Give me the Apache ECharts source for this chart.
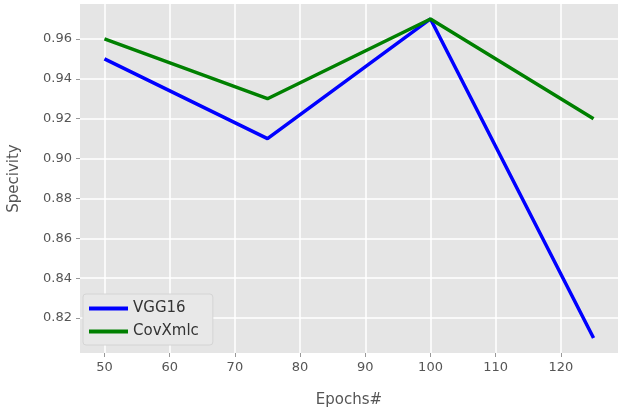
<!DOCTYPE html>
<html>
<head>
    <meta charset="utf-8" />
    <title>Specivity</title>
    <script src="https://cdn.jsdelivr.net/npm/echarts@6/dist/echarts.min.js"></script>
    <style>
        html, body { margin: 0; padding: 0; background: #fff; }
    </style>
</head>
<body>
    <div id="main" style="width: 623px;height: 416px;"></div>
<script type="text/javascript">
    // data
    var epochs = [50, 75, 100, 125];
    var vgg16 = [0.95, 0.91, 0.97, 0.81];
    var covXmlc = [0.96, 0.93, 0.97, 0.92];
    var xTicks = [50, 60, 70, 80, 90, 100, 110, 120];
    var yTicks = [0.82, 0.84, 0.86, 0.88, 0.90, 0.92, 0.94, 0.96];

    function pairs(xs, ys) {
        return xs.map(function (x, i) { return [x, ys[i]]; });
    }

    var chart = echarts.init(document.getElementById('main'));
    var gray = '#555';
    var font = 'DejaVu Sans';

    var option = {
        animation: false,
        textStyle: { fontFamily: font },
        legend: {
            left: 83,
            top: 294,
            orient: 'vertical',
            itemWidth: 39,
            itemHeight: 4,
            itemGap: 8,
            padding: [7, 14, 6, 6],
            backgroundColor: '#e8e8e8',
            borderColor: '#d4d4d4',
            borderWidth: 1,
            borderRadius: 3,
            textStyle: { color: '#333', fontSize: 15, fontFamily: font },
            data: [
                { name: 'VGG16', icon: 'rect' },
                { name: 'CovXmlc', icon: 'rect' }
            ]
        },
        grid: {
            left: 80,
            right: 5,
            top: 4,
            bottom: 63,
            outerBoundsMode: 'none',
            show: true,
            backgroundColor: '#e5e5e5',
            borderWidth: 0
        },
        xAxis: {
            type: 'value',
            min: 46.25,
            max: 128.75,
            name: 'Epochs#',
            nameLocation: 'middle',
            nameGap: 40,
            nameTextStyle: { color: gray, fontSize: 15 },
            axisLine: { show: false },
            axisTick: { show: true, length: 4, customValues: xTicks, lineStyle: { color: '#999' } },
            axisLabel: { customValues: xTicks, color: gray, fontSize: 13, margin: 8 },
            splitLine: { show: true, lineStyle: { color: '#fff', width: 1.5 } }
        },
        yAxis: {
            type: 'value',
            min: 0.8025,
            max: 0.9775,
            name: 'Specivity',
            nameLocation: 'middle',
            nameGap: 58,
            nameTextStyle: { color: gray, fontSize: 15 },
            axisLine: { show: false },
            axisTick: { show: true, length: 4, customValues: yTicks, lineStyle: { color: '#999' } },
            axisLabel: {
                customValues: yTicks,
                color: gray,
                fontSize: 13,
                margin: 8,
                formatter: function (v) { return v.toFixed(2); }
            },
            splitLine: { show: true, lineStyle: { color: '#fff', width: 1.5 } }
        },
        series: [
            {
                name: 'VGG16',
                type: 'line',
                data: pairs(epochs, vgg16),
                showSymbol: false,
                color: '#0000ff',
                lineStyle: { width: 3.5, color: '#0000ff' }
            },
            {
                name: 'CovXmlc',
                type: 'line',
                data: pairs(epochs, covXmlc),
                showSymbol: false,
                color: '#008000',
                lineStyle: { width: 3.5, color: '#008000' }
            }
        ]
    };
    chart.setOption(option);
</script>
</body>
</html>
